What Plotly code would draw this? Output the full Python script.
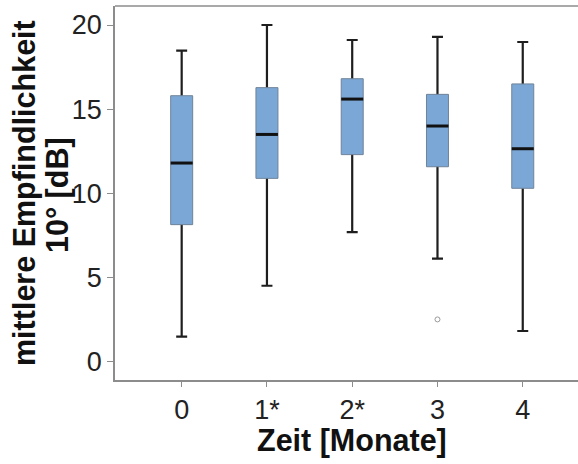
import plotly.graph_objects as go

categories = ["0", "1*", "2*", "3", "4"]
q1 = [8.14, 10.89, 12.30, 11.58, 10.30]
median = [11.80, 13.50, 15.60, 14.00, 12.65]
q3 = [15.80, 16.28, 16.81, 15.88, 16.50]
lower = [1.49, 4.51, 7.70, 6.12, 1.82]
upper = [18.48, 20.00, 19.11, 19.29, 18.99]
outlier_x = ["3"]
outlier_y = [2.51]

W, H = 578, 464
L, R, T, B = 115, 0, 6, 84
pw, ph = W - L - R, H - T - B

def px_x(p):
    return (p - L) / pw

def px_y(p):
    return 1 - (p - T) / ph

fill = "#7BA7D6"
fig = go.Figure()

# whiskers (collapsed box at the median so whiskers run from median to fences)
fig.add_trace(go.Box(
    x=categories, q1=median, median=median, q3=median,
    lowerfence=lower, upperfence=upper,
    width=0.23, whiskerwidth=0.56,
    line=dict(color="#1e1e1e", width=2.2),
    fillcolor=fill, boxpoints=False, hoverinfo="skip", showlegend=False,
))
# boxes
fig.add_trace(go.Box(
    x=categories, q1=q1, median=median, q3=q3,
    lowerfence=q1, upperfence=q3,
    width=0.258, whiskerwidth=0,
    line=dict(color="#6f8399", width=1),
    fillcolor=fill, boxpoints=False, showlegend=False,
))
# medians
fig.add_trace(go.Scatter(
    x=categories, y=median, mode="markers",
    marker=dict(symbol="line-ew", size=15.7,
                line=dict(color="#111111", width=3)),
    showlegend=False, hoverinfo="skip",
))
# outlier
fig.add_trace(go.Scatter(
    x=outlier_x, y=outlier_y, mode="markers",
    marker=dict(symbol="circle-open", size=5,
                line=dict(color="#9a9a9a", width=1), color="#9a9a9a"),
    showlegend=False,
))

axis_col = "#8c8c8c"
tick_font = dict(family="Liberation Sans, Arial, sans-serif", size=27, color="#222222")
fig.update_layout(
    width=W, height=H,
    margin=dict(l=L, r=R, t=T, b=B),
    plot_bgcolor="white", paper_bgcolor="white",
    boxmode="overlay",
    xaxis=dict(type="category", categoryorder="array", categoryarray=categories,
               range=[-0.782, 4.648], showline=True, linecolor=axis_col, linewidth=1.5,
               ticks="outside", ticklen=5, tickcolor=axis_col, tickwidth=1,
               showgrid=False, zeroline=False, tickfont=tick_font),
    yaxis=dict(range=[-1.09, 21.13], tickvals=[0, 5, 10, 15, 20],
               showline=True, linecolor=axis_col, linewidth=1.5,
               ticks="outside", ticklen=6, tickcolor=axis_col, tickwidth=1,
               showgrid=False, zeroline=False, tickfont=tick_font),
    shapes=[dict(type="line", xref="paper", yref="paper", x0=0, x1=1, y0=1, y1=1,
                 line=dict(color=axis_col, width=1.5))],
)

title_font = dict(family="Liberation Sans, Arial, sans-serif", size=30.5, color="#111111")
fig.add_annotation(text="<b>Zeit [Monate]</b>", xref="paper", yref="paper",
                   x=px_x(352), y=px_y(440), xanchor="center", yanchor="middle",
                   showarrow=False, font=title_font)
fig.add_annotation(text="<b>mittlere Empfindlichkeit</b>", xref="paper", yref="paper",
                   x=px_x(24), y=px_y(193), xanchor="center", yanchor="middle",
                   textangle=-90, showarrow=False, font=title_font)
fig.add_annotation(text="<b>10° [dB]</b>", xref="paper", yref="paper",
                   x=px_x(57), y=px_y(195), xanchor="center", yanchor="middle",
                   textangle=-90, showarrow=False, font=title_font)

fig.write_html("out.html", config={"displayModeBar": False},
               post_script="document.body.style.margin='0';")
